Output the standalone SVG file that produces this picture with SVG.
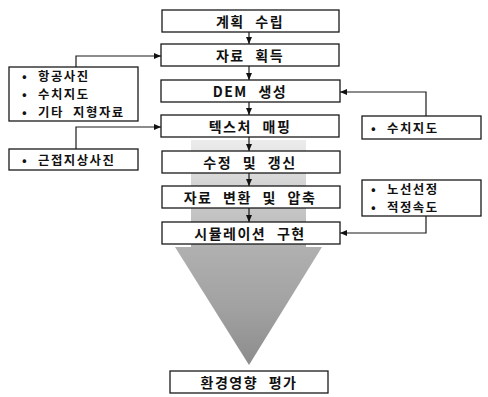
<svg xmlns="http://www.w3.org/2000/svg" width="488" height="397" viewBox="0 0 488 397">
<style>
.box{fill:#fff;stroke:#1a1a1a;stroke-width:1.3}
.t{font-family:"Noto Sans CJK KR","Noto Sans",sans-serif;font-weight:bold;font-size:14px;fill:#111;text-anchor:middle;dominant-baseline:central;letter-spacing:1.5px;word-spacing:6px}
.l{font-family:"Noto Sans CJK KR","Noto Sans",sans-serif;font-weight:bold;font-size:12.4px;fill:#111;dominant-baseline:central;letter-spacing:1.5px;word-spacing:5px}
.c{fill:none;stroke:#1a1a1a;stroke-width:1.2}
</style>
<defs>
<marker id="ah" markerWidth="8" markerHeight="8" refX="7" refY="4" orient="auto" markerUnits="userSpaceOnUse">
<path d="M0,1 L7,4 L0,7 Z" fill="#111"/>
</marker>
<linearGradient id="tg" x1="0" y1="0" x2="0" y2="1">
<stop offset="0" stop-color="#b0b0b0"/>
<stop offset="0.5" stop-color="#a2a2a2"/>
<stop offset="1" stop-color="#8c8c8c"/>
</linearGradient>
<linearGradient id="sg" x1="0" y1="0" x2="0" y2="1">
<stop offset="0" stop-color="#ececec"/>
<stop offset="1" stop-color="#b0b0b0"/>
</linearGradient>
</defs>
<g id="arrow-shape">
<rect x="191" y="140" width="115" height="110" fill="url(#sg)"/>
<polygon points="175,247 322,247 249,365" fill="url(#tg)"/>
</g>
<g id="connectors">
<line class="c" x1="249" y1="32" x2="249" y2="44" marker-end="url(#ah)"/>
<line class="c" x1="249" y1="66" x2="249" y2="80" marker-end="url(#ah)"/>
<line class="c" x1="249" y1="102" x2="249" y2="115" marker-end="url(#ah)"/>
<line class="c" x1="249" y1="137" x2="249" y2="151" marker-end="url(#ah)"/>
<line class="c" x1="249" y1="173" x2="249" y2="186" marker-end="url(#ah)"/>
<line class="c" x1="249" y1="208" x2="249" y2="222" marker-end="url(#ah)"/>
<polyline class="c" points="76,67 76,56 161,56" marker-end="url(#ah)"/>
<polyline class="c" points="76,149 76,127 161,127" marker-end="url(#ah)"/>
<polyline class="c" points="426,116 426,92 340,92" marker-end="url(#ah)"/>
<polyline class="c" points="426,216 426,233 340,233" marker-end="url(#ah)"/>
</g>
<g id="n1"><rect class="box" x="162" y="10" width="177" height="22"/><text class="t" x="250" y="21">계획 수립</text></g>
<g id="n2"><rect class="box" x="161" y="44" width="178" height="22"/><text class="t" x="250" y="55">자료 획득</text></g>
<g id="n3"><rect class="box" x="161" y="80" width="179" height="22"/><text class="t" x="250" y="91">DEM 생성</text></g>
<g id="n4"><rect class="box" x="161" y="115" width="178" height="22"/><text class="t" x="250" y="126">텍스처 매핑</text></g>
<g id="n5"><rect class="box" x="162" y="151" width="178" height="22"/><text class="t" x="250" y="162">수정 및 갱신</text></g>
<g id="n6"><rect class="box" x="162" y="186" width="178" height="22"/><text class="t" x="250" y="197">자료 변환 및 압축</text></g>
<g id="n7"><rect class="box" x="162" y="222" width="178" height="22"/><text class="t" x="250" y="233">시뮬레이션 구현</text></g>
<g id="n8"><rect class="box" x="170" y="371" width="158" height="22"/><text class="t" x="249" y="382">환경영향 평가</text></g>
<g id="l1"><rect class="box" x="9" y="67" width="129" height="54"/>
<text class="l"><tspan x="22" y="76">•</tspan><tspan x="38" y="76">항공사진</tspan><tspan x="22" y="94">•</tspan><tspan x="38" y="94">수치지도</tspan><tspan x="22" y="112">•</tspan><tspan x="38" y="112">기타 지형자료</tspan></text></g>
<g id="l2"><rect class="box" x="9" y="149" width="129" height="21"/>
<text class="l"><tspan x="22" y="159.5">•</tspan><tspan x="38" y="159.5">근접지상사진</tspan></text></g>
<g id="r1"><rect class="box" x="362" y="116" width="119" height="23"/>
<text class="l"><tspan x="371" y="127.5">•</tspan><tspan x="387" y="127.5">수치지도</tspan></text></g>
<g id="r2"><rect class="box" x="362" y="180" width="119" height="36"/>
<text class="l"><tspan x="371" y="189">•</tspan><tspan x="387" y="189">노선선정</tspan><tspan x="371" y="207">•</tspan><tspan x="387" y="207">적정속도</tspan></text></g>
</svg>
